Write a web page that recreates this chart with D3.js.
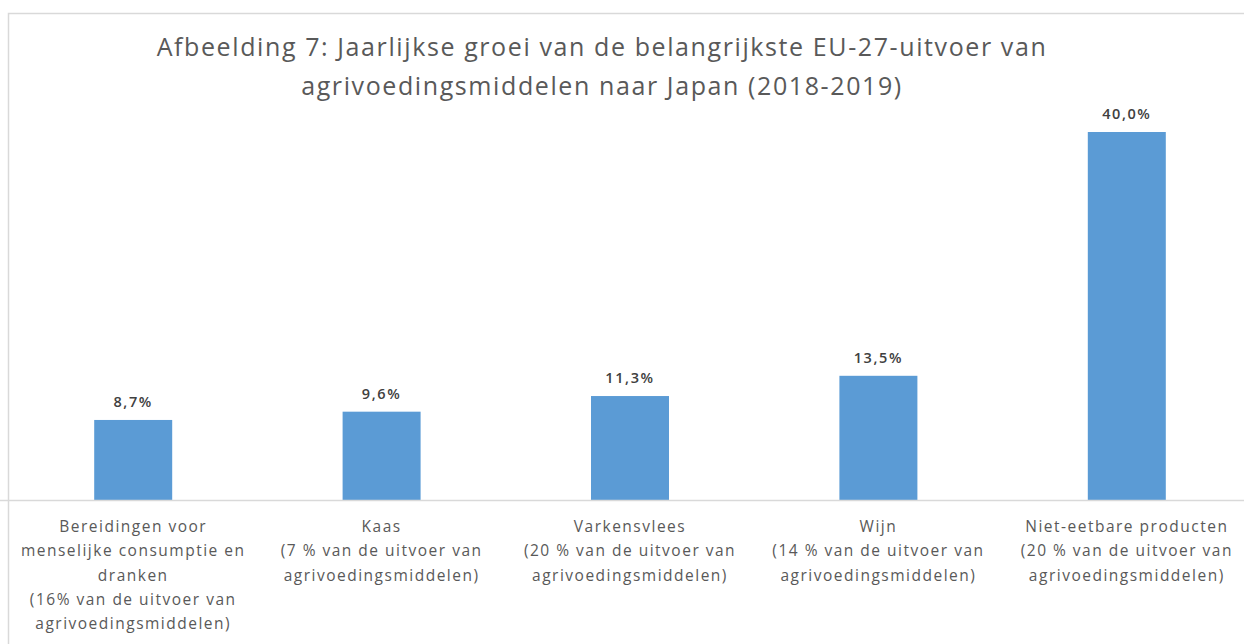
<!DOCTYPE html>
<html><head><meta charset="utf-8">
<script src="https://cdn.jsdelivr.net/npm/d3@7"></script>
<style>body{margin:0;background:#fff}svg{display:block}</style>
</head><body>
<svg id="c" width="1244" height="644"></svg>
<script>
const titleLines = ["Afbeelding 7: Jaarlijkse groei van de belangrijkste EU-27-uitvoer van", "agrivoedingsmiddelen naar Japan (2018-2019)"];
const categories = ["Bereidingen", "Kaas", "Varkensvlees", "Wijn", "Niet-eetbare"];
const categoryLabels = [
  ["Bereidingen voor", "menselijke consumptie en", "dranken", "(16% van de uitvoer van", "agrivoedingsmiddelen)"],
  ["Kaas", "(7 % van de uitvoer van", "agrivoedingsmiddelen)"],
  ["Varkensvlees", "(20 % van de uitvoer van", "agrivoedingsmiddelen)"],
  ["Wijn", "(14 % van de uitvoer van", "agrivoedingsmiddelen)"],
  ["Niet-eetbare producten", "(20 % van de uitvoer van", "agrivoedingsmiddelen)"]
];
const values = [8.7, 9.6, 11.3, 13.5, 40.0];
const valueLabels = ["8,7%", "9,6%", "11,3%", "13,5%", "40,0%"];

const svg = d3.select("#c");
const font = "'Open Sans', sans-serif";

// chart border
svg.append("rect").attr("x", 8.5).attr("y", 13.5).attr("width", 1300).attr("height", 700)
  .attr("fill", "none").attr("stroke", "#d9d9d9").attr("stroke-width", 1.5);

const x = d3.scaleBand().domain(categories).range([9, 1251]).paddingInner(0.686).paddingOuter(0.343);
const y = d3.scaleLinear().domain([0, 40]).range([500, 132]);

// title
svg.append("text").attr("x", 602).attr("y", 56).attr("text-anchor", "middle")
  .attr("font-family", font).attr("font-size", 25).attr("font-weight", 500).attr("letter-spacing", 1.6).attr("fill", "#595959")
  .selectAll("tspan").data(titleLines).join("tspan")
  .attr("x", 602).attr("dy", (d, i) => i ? 39 : 0).text(d => d);

// bars
svg.append("g").selectAll("rect").data(values).join("rect")
  .attr("x", (d, i) => x(categories[i])).attr("width", x.bandwidth())
  .attr("y", d => y(d)).attr("height", d => y(0) - y(d)).attr("fill", "#5b9bd5");

// value labels
svg.append("g").selectAll("text").data(values).join("text")
  .attr("x", (d, i) => x(categories[i]) + x.bandwidth() / 2).attr("y", d => y(d) - 13)
  .attr("text-anchor", "middle").attr("font-family", font).attr("font-size", 14.5)
  .attr("font-weight", 600).attr("letter-spacing", 1.6).attr("fill", "#404040").text((d, i) => valueLabels[i]);

// axis
const ax = svg.append("g").attr("transform", `translate(0,${y(0)})`)
  .call(d3.axisBottom(x).tickSize(0).tickSizeOuter(0));
ax.select(".domain").attr("stroke", "#d9d9d9").attr("stroke-width", 1.5).attr("d", "M-1,0.5H1250");
ax.selectAll(".tick text").remove();
ax.selectAll(".tick").append("text")
  .attr("text-anchor", "middle").attr("font-family", font).attr("font-size", 15.5)
  .attr("letter-spacing", 1.5)
  .attr("fill", "#595959").attr("y", 32)
  .selectAll("tspan").data((d, i) => categoryLabels[i]).join("tspan")
  .attr("x", 0).attr("dy", (d, i) => i ? 24.3 : 0).text(d => d);
</script>
</body></html>
